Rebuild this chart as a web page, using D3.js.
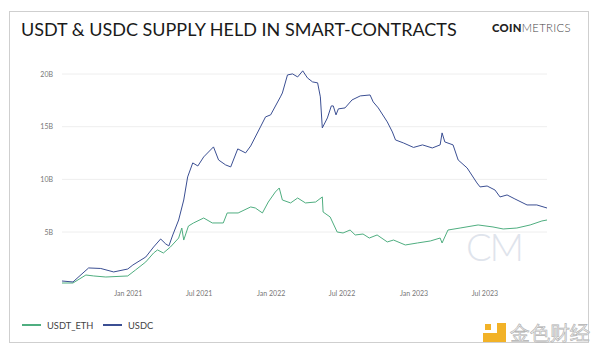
<!DOCTYPE html>
<head>
    <script src="https://d3js.org/d3.v7.min.js"></script>
    <style>
        body { margin: 0; background: #fff; }
        text { font-family: Lato, "Open Sans", sans-serif; }
    </style>
</head>

<body>
    <div id="chart"></div>
</body>

<script>
    const width = 600,
        height = 354;

    // values in billions
    const usdcDates = ["2020-07-17","2020-08-14","2020-09-23","2020-10-24","2020-11-26","2021-01-01","2021-01-14","2021-02-16","2021-03-08","2021-03-26","2021-04-08","2021-04-16","2021-04-26","2021-05-11","2021-05-24","2021-06-03","2021-06-16","2021-06-29","2021-07-14","2021-08-08","2021-08-21","2021-09-08","2021-09-21","2021-10-09","2021-10-29","2021-11-11","2021-12-06","2021-12-19","2022-01-01","2022-01-26","2022-01-31","2022-02-13","2022-02-26","2022-03-11","2022-03-24","2022-04-05","2022-04-18","2022-05-01","2022-05-08","2022-05-13","2022-05-26","2022-06-05","2022-06-10","2022-06-17","2022-06-23","2022-07-10","2022-07-28","2022-08-18","2022-09-12","2022-09-20","2022-10-03","2022-10-26","2022-11-08","2022-11-16","2022-12-06","2023-01-01","2023-01-24","2023-02-18","2023-03-10","2023-03-15","2023-03-22","2023-04-12","2023-04-25","2023-05-18","2023-06-12","2023-06-20","2023-07-08","2023-07-28","2023-08-10","2023-08-28","2023-09-17","2023-10-18","2023-11-12","2023-12-08"];
    const usdcValues = [0.35,0.26,1.59,1.54,1.21,1.49,1.87,2.63,3.58,4.34,3.87,3.68,4.72,6.14,8.04,10.23,11.56,11.27,12.13,13.08,11.84,11.37,11.18,12.89,12.51,13.17,14.98,15.93,16.12,17.83,18.2,19.91,20.01,19.72,20.3,19.63,19.25,19.16,17.83,14.88,15.83,16.97,16.97,16.12,16.69,16.78,17.54,17.92,18.01,17.35,16.78,15.45,14.5,13.74,13.46,13.03,13.27,12.98,13.27,14.41,13.55,13.27,11.84,11.08,9.66,9.28,9.37,8.99,8.33,8.52,8.14,7.57,7.57,7.28];

    const usdtDates = ["2020-07-17","2020-08-14","2020-09-16","2020-10-06","2020-11-06","2021-01-01","2021-01-21","2021-02-16","2021-03-08","2021-03-18","2021-04-02","2021-04-20","2021-05-11","2021-05-19","2021-05-24","2021-06-05","2021-06-18","2021-07-14","2021-08-05","2021-09-02","2021-09-12","2021-10-10","2021-11-11","2021-11-23","2021-12-11","2021-12-26","2022-01-13","2022-01-23","2022-01-31","2022-02-21","2022-03-11","2022-03-31","2022-04-26","2022-05-13","2022-05-15","2022-06-02","2022-06-20","2022-07-05","2022-07-23","2022-08-05","2022-08-25","2022-09-10","2022-09-30","2022-10-26","2022-11-11","2022-12-11","2023-01-11","2023-02-13","2023-03-10","2023-03-15","2023-03-30","2023-04-30","2023-06-15","2023-07-23","2023-08-18","2023-09-22","2023-10-26","2023-11-25","2023-12-08"];
    const usdtValues = [0.16,0.16,0.92,0.83,0.73,0.83,1.4,2.16,3.01,3.3,3.01,3.58,4.43,5.38,4.24,5.57,5.86,6.33,5.86,5.86,6.81,6.81,7.38,7.28,6.81,7.85,8.8,9.18,8.04,7.76,8.23,7.76,7.85,8.33,6.9,6.43,5.0,4.91,5.19,4.72,4.81,4.43,4.72,4.06,4.24,3.77,3.96,4.15,4.43,3.96,5.19,5.38,5.67,5.48,5.29,5.38,5.67,6.05,6.14];

    const yTicks = [5, 10, 15, 20];
    const xTicks = ["2021-01-01","2021-07-01","2022-01-01","2022-07-01","2023-01-01","2023-07-01"];

    const seriesNames = ["USDT_ETH", "USDC"];
    const colors = { "USDT_ETH": "#4fae80", "USDC": "#3b4f93" };

    const parse = d3.timeParse("%Y-%m-%d");

    const series = [
        { key: "USDT_ETH", values: usdtDates.map((d, i) => ({ date: parse(d), v: usdtValues[i] })) },
        { key: "USDC", values: usdcDates.map((d, i) => ({ date: parse(d), v: usdcValues[i] })) }
    ];

    const svg = d3.select("#chart")
        .append("svg")
        .attr("width", width)
        .attr("height", height);

    // frame
    svg.append("rect")
        .attr("x", 9.5).attr("y", 11.5)
        .attr("width", 579).attr("height", 331)
        .attr("fill", "#fff")
        .attr("stroke", "#cfcfcf");

    svg.append("text")
        .attr("x", 21).attr("y", 35.5)
        .attr("font-size", 18)
        .attr("fill", "#1a1a1a")
        .text("USDT & USDC SUPPLY HELD IN SMART-CONTRACTS");

    const logo = svg.append("text")
        .attr("x", 492).attr("y", 32)
        .attr("font-size", 11.3)
        .attr("letter-spacing", 0.3)
        .attr("fill", "#222");
    logo.append("tspan").attr("font-weight", 900).text("COIN");
    logo.append("tspan").attr("font-weight", 300).attr("fill", "#444").text("METRICS");

    const x = d3.scaleTime()
        .domain([parse("2020-07-17"), parse("2023-12-08")])
        .range([62, 547]);

    const y = d3.scaleLinear()
        .domain([0, 20])
        .range([284.7, 74]);

    // watermark
    svg.append("text")
        .attr("x", 494).attr("y", 261)
        .attr("text-anchor", "middle")
        .attr("font-size", 38)
        .attr("font-weight", 300)
        .attr("fill", "#dfe4ec")
        .attr("letter-spacing", -2)
        .text("CM");

    // grid
    svg.append("g")
        .selectAll("line")
        .data(yTicks)
        .join("line")
        .attr("x1", 62).attr("x2", 547)
        .attr("y1", d => y(d)).attr("y2", d => y(d))
        .attr("stroke", "#eeeeee")
        .attr("stroke-width", 1);

    const yAxis = svg.append("g")
        .attr("transform", "translate(56,0)")
        .call(d3.axisLeft(y).tickValues(yTicks).tickSize(0).tickFormat(d => d + "B"));
    yAxis.select(".domain").remove();
    yAxis.selectAll("text").attr("font-size", 7).attr("fill", "#777").attr("font-family", "Lato, sans-serif");

    const xAxis = svg.append("g")
        .attr("transform", "translate(0,288)")
        .call(d3.axisBottom(x).tickValues(xTicks.map(parse)).tickSize(0).tickFormat(d3.timeFormat("%b %Y")));
    xAxis.select(".domain").remove();
    xAxis.selectAll("text").attr("font-size", 7).attr("fill", "#777").attr("font-family", "Lato, sans-serif");

    const line = d3.line()
        .x(d => x(d.date))
        .y(d => y(d.v));

    svg.append("g")
        .selectAll("path")
        .data(series)
        .join("path")
        .attr("d", d => line(d.values))
        .attr("fill", "none")
        .attr("stroke", d => colors[d.key])
        .attr("stroke-width", 1)
        .attr("stroke-linejoin", "round");

    // legend
    const legend = svg.append("g")
        .attr("transform", "translate(22,325)");

    const item = legend.selectAll("g")
        .data(seriesNames)
        .join("g")
        .attr("transform", (d, i) => `translate(${i === 0 ? 0 : 81},0)`);

    item.append("line")
        .attr("x1", 0).attr("x2", 19)
        .attr("stroke", d => colors[d])
        .attr("stroke-width", 2);

    item.append("text")
        .attr("x", 25).attr("y", 3.5)
        .attr("font-size", 9.3)
        .attr("fill", "#444")
        .text(d => d);

    // jinse watermark
    svg.append("path")
        .attr("d", "M497,323h9v19h-23v-9h14z")
        .attr("fill", "#f2b227");
    svg.append("rect")
        .attr("x", 485).attr("y", 324)
        .attr("width", 6).attr("height", 6)
        .attr("fill", "#f2b227");
    svg.append("text")
        .attr("x", 510).attr("y", 340)
        .attr("font-size", 19.5)
        .attr("font-family", "Noto Sans CJK SC")
        .attr("fill", "#f2f2f2")
        .attr("stroke", "#b0b0b0")
        .attr("stroke-width", 0.6)
        .text("金色财经");
</script>
</html>
